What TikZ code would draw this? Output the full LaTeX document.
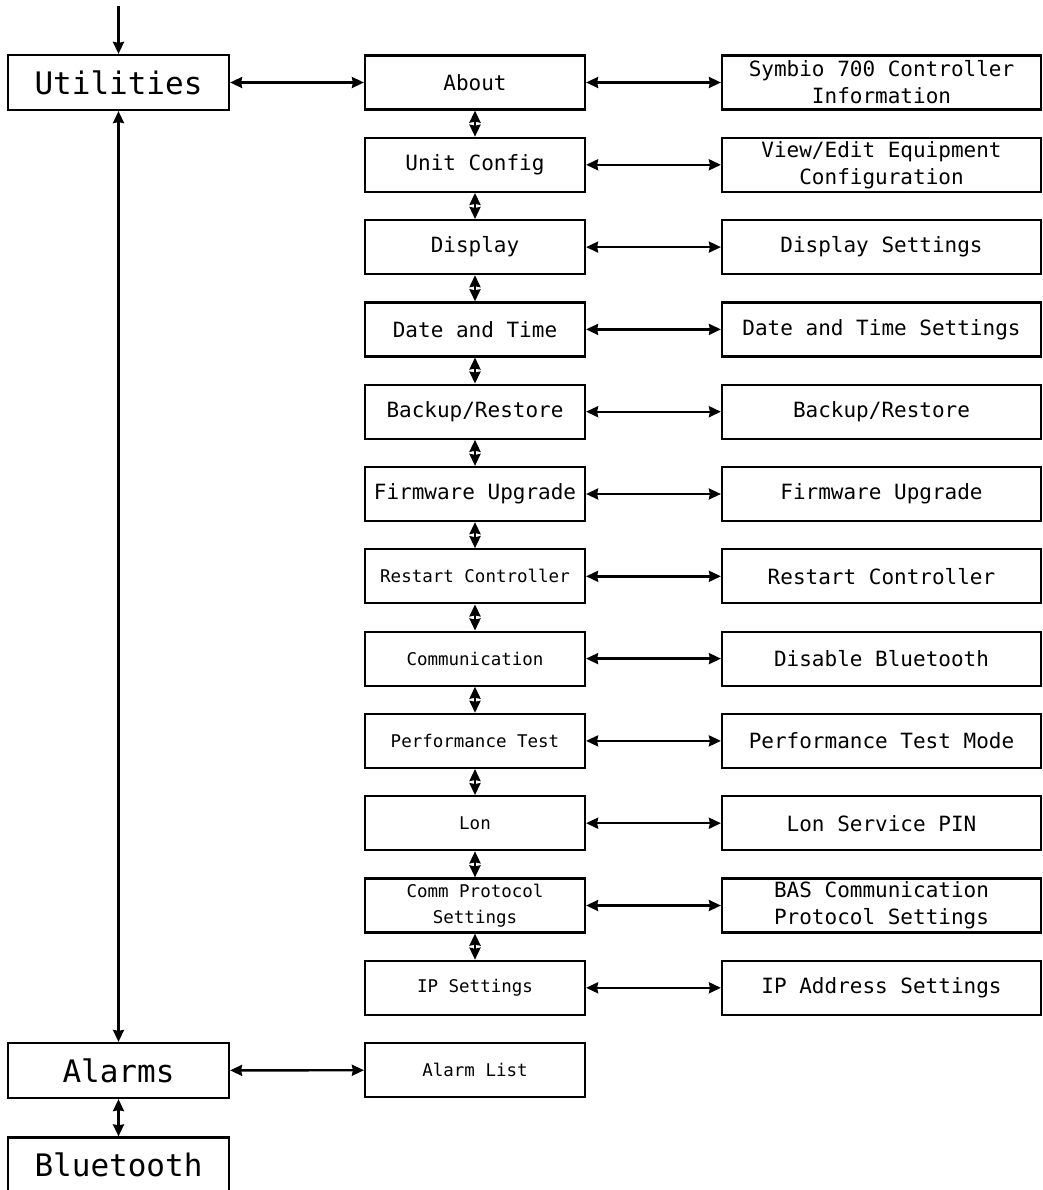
\documentclass[tikz,border=0pt]{standalone}
\usepackage{fontspec}
\setmonofont{DejaVu Sans Mono}
\usetikzlibrary{arrows.meta}
\tikzstyle{mainmenu} = [
    rectangle,
    minimum width=221pt,
    minimum height=55pt,
    draw=black,
    line width=2.2pt,
    font=\ttfamily\fontsize{31}{34}\selectfont
]
\tikzstyle{submenu} = [
    rectangle,
    minimum width=220pt,
    minimum height=54pt,
    draw=black,
    line width=2.2pt,
    align=center,
    font=\ttfamily\fontsize{21}{27}\selectfont
]
\tikzstyle{smallmenu} = [
    submenu,
    font=\ttfamily\fontsize{17.5}{26}\selectfont
]
\tikzstyle{detail} = [
    rectangle,
    minimum width=319pt,
    minimum height=54pt,
    draw=black,
    line width=2.2pt,
    align=center,
    font=\ttfamily\fontsize{21}{27}\selectfont
]
\tikzstyle{arrow} = [line width=2.4pt,<->,>={Stealth[length=12pt,width=11pt,inset=1pt]}]

\begin{document}
\begin{tikzpicture}[x=1pt, y=1pt, node distance=82.3pt]

\useasboundingbox (0,0) rectangle (1042,-1190);

\coordinate (entry) at (118.5,-6);
\node (utilities) [mainmenu] at (118.5,-82.5) {Utilities};
\node (alarms) [mainmenu, below of=utilities, node distance=988pt] {Alarms};
\node (bluetooth) [mainmenu, below of=alarms, node distance=94.5pt] {Bluetooth};

\node (about) [submenu] at (475,-82.5) {About};
\node (unitconfig) [submenu, below of=about] {Unit Config};
\node (display) [submenu, below of=unitconfig] {Display};
\node (datetime) [submenu, below of=display] {Date and Time};
\node (backup) [submenu, below of=datetime] {Backup/Restore};
\node (firmware) [submenu, below of=backup] {Firmware Upgrade};
\node (restart) [smallmenu, below of=firmware] {Restart Controller};
\node (comm) [smallmenu, below of=restart] {Communication};
\node (perftest) [smallmenu, below of=comm] {Performance Test};
\node (lon) [smallmenu, below of=perftest] {Lon};
\node (protocol) [smallmenu, below of=lon] {Comm Protocol\\Settings};
\node (ipset) [smallmenu, below of=protocol] {IP Settings};
\node (alarmlist) [smallmenu, below of=ipset] {Alarm List};

\node (controllerinfo) [detail, right of=about, node distance=406.5pt] {Symbio 700 Controller\\Information};
\node (equipconfig) [detail, right of=unitconfig, node distance=406.5pt] {View/Edit Equipment\\Configuration};
\node (dispsettings) [detail, right of=display, node distance=406.5pt] {Display Settings};
\node (dtsettings) [detail, right of=datetime, node distance=406.5pt] {Date and Time Settings};
\node (backupdetail) [detail, right of=backup, node distance=406.5pt] {Backup/Restore};
\node (firmwaredetail) [detail, right of=firmware, node distance=406.5pt] {Firmware Upgrade};
\node (restartdetail) [detail, right of=restart, node distance=406.5pt] {Restart Controller};
\node (nobluetooth) [detail, right of=comm, node distance=406.5pt] {Disable Bluetooth};
\node (perfmode) [detail, right of=perftest, node distance=406.5pt] {Performance Test Mode};
\node (lonpin) [detail, right of=lon, node distance=406.5pt] {Lon Service PIN};
\node (basprotocol) [detail, right of=protocol, node distance=406.5pt] {BAS Communication\\Protocol Settings};
\node (ipaddress) [detail, right of=ipset, node distance=406.5pt] {IP Address Settings};

% Arrows
\draw [arrow, <-] (utilities) -- (entry);
\draw [arrow] (utilities) -- (about);
\draw [arrow] (utilities) -- (alarms);
\draw [arrow] (alarms) -- (bluetooth);
\draw [arrow] (alarms) -- (alarmlist);

\draw [arrow] (about) -- (unitconfig);
\draw [arrow] (unitconfig) -- (display);
\draw [arrow] (display) -- (datetime);
\draw [arrow] (datetime) -- (backup);
\draw [arrow] (backup) -- (firmware);
\draw [arrow] (firmware) -- (restart);
\draw [arrow] (restart) -- (comm);
\draw [arrow] (comm) -- (perftest);
\draw [arrow] (perftest) -- (lon);
\draw [arrow] (lon) -- (protocol);
\draw [arrow] (protocol) -- (ipset);

\draw [arrow] (about) -- (controllerinfo);
\draw [arrow] (unitconfig) -- (equipconfig);
\draw [arrow] (display) -- (dispsettings);
\draw [arrow] (datetime) -- (dtsettings);
\draw [arrow] (backup) -- (backupdetail);
\draw [arrow] (firmware) -- (firmwaredetail);
\draw [arrow] (restart) -- (restartdetail);
\draw [arrow] (comm) -- (nobluetooth);
\draw [arrow] (perftest) -- (perfmode);
\draw [arrow] (lon) -- (lonpin);
\draw [arrow] (protocol) -- (basprotocol);
\draw [arrow] (ipset) -- (ipaddress);

\end{tikzpicture}
\end{document}
